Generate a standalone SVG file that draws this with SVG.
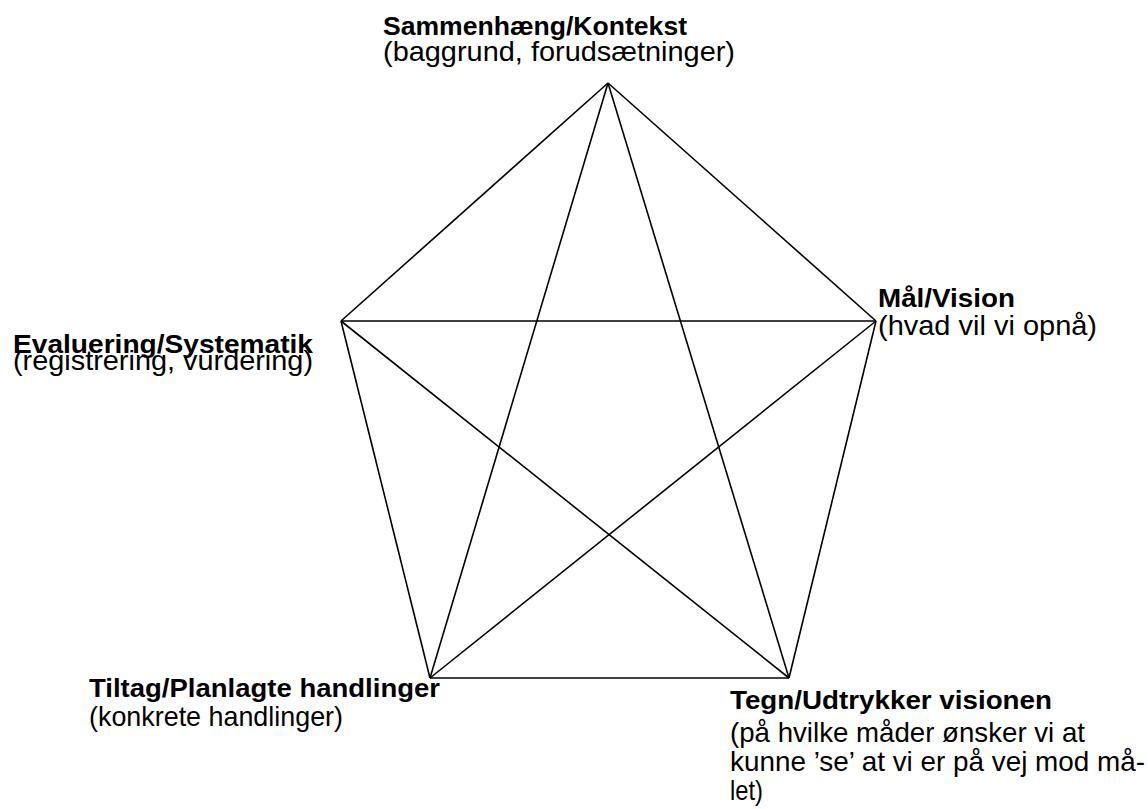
<svg xmlns="http://www.w3.org/2000/svg" width="1148" height="809" viewBox="0 0 1148 809">
<style>
.b{font-family:"Liberation Sans",Arial,sans-serif;font-weight:bold;font-size:26px;fill:#000}
.r{font-family:"Liberation Sans",Arial,sans-serif;font-size:28px;fill:#000}
.l{stroke:#000;stroke-width:1.6;fill:none}
</style>
<rect width="1148" height="809" fill="#fff"/>
<g id="connectors" class="l">
<line x1="608" y1="83" x2="876" y2="321"/>
<line x1="876" y1="321" x2="789" y2="678"/>
<line x1="789" y1="678" x2="430" y2="678"/>
<line x1="430" y1="678" x2="341" y2="321"/>
<line x1="341" y1="321" x2="608" y2="83"/>
<line x1="608" y1="83" x2="789" y2="678"/>
<line x1="608" y1="83" x2="430" y2="678"/>
<line x1="341" y1="321" x2="876" y2="321"/>
<line x1="341" y1="321" x2="789" y2="678"/>
<line x1="876" y1="321" x2="430" y2="678"/>
</g>
<g id="node-top"><text class="b" x="383" y="35" textLength="304" lengthAdjust="spacingAndGlyphs">Sammenhæng/Kontekst</text><text class="r" x="383" y="61" textLength="352" lengthAdjust="spacingAndGlyphs">(baggrund, forudsætninger)</text></g>
<g id="node-right"><text class="b" x="878" y="307" textLength="137" lengthAdjust="spacingAndGlyphs">Mål/Vision</text><text class="r" x="878" y="335" textLength="219" lengthAdjust="spacingAndGlyphs">(hvad vil vi opnå)</text></g>
<g id="node-left"><text class="b" x="13" y="353" textLength="300" lengthAdjust="spacingAndGlyphs">Evaluering/Systematik</text><text class="r" x="13" y="370" textLength="300" lengthAdjust="spacingAndGlyphs">(registrering, vurdering)</text></g>
<g id="node-bottomleft"><text class="b" x="89" y="697" textLength="351" lengthAdjust="spacingAndGlyphs">Tiltag/Planlagte handlinger</text><text class="r" x="89" y="726" textLength="254" lengthAdjust="spacingAndGlyphs">(konkrete handlinger)</text></g>
<g id="node-bottomright"><text class="b" x="730" y="709" textLength="322" lengthAdjust="spacingAndGlyphs">Tegn/Udtrykker visionen</text><text class="r" x="730" y="742" textLength="355" lengthAdjust="spacingAndGlyphs">(på hvilke måder ønsker vi at</text><text class="r" x="730" y="771" textLength="415" lengthAdjust="spacingAndGlyphs">kunne ’se’ at vi er på vej mod må-</text><text class="r" x="730" y="800" textLength="33" lengthAdjust="spacingAndGlyphs">let)</text></g>
</svg>
